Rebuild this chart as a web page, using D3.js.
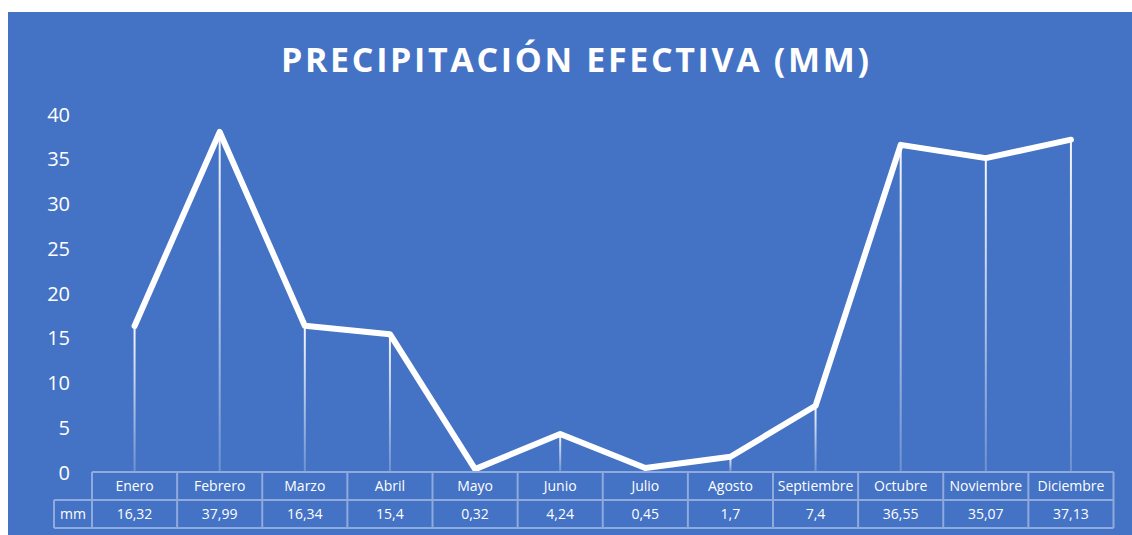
<!DOCTYPE html>
<html>
<head>
<meta charset="utf-8">
<script src="https://cdn.jsdelivr.net/npm/d3@7"></script>
<style>
  html, body { margin: 0; padding: 0; background: #ffffff; }
  svg { display: block; }
</style>
</head>
<body>
<svg id="chart" width="1132" height="535"></svg>
<script>
const title = "PRECIPITACIÓN EFECTIVA (MM)";
const categories = ["Enero","Febrero","Marzo","Abril","Mayo","Junio","Julio","Agosto","Septiembre","Octubre","Noviembre","Diciembre"];
const values = [16.32, 37.99, 16.34, 15.4, 0.32, 4.24, 0.45, 1.7, 7.4, 36.55, 35.07, 37.13];
const valueLabels = ["16,32","37,99","16,34","15,4","0,32","4,24","0,45","1,7","7,4","36,55","35,07","37,13"];
const seriesName = "mm";
const yTicks = [0, 5, 10, 15, 20, 25, 30, 35, 40];

const svg = d3.select("#chart");
const bg = "#4472C4";
const gridCol = "#8faadc";
const font = "'Open Sans', 'Liberation Sans', sans-serif";

svg.append("rect").attr("x", 8).attr("y", 12).attr("width", 1132 - 8).attr("height", 535 - 12).attr("fill", bg);

const plotLeft = 92, plotRight = 1113.5, yTop = 114, yZero = 472;
const x = d3.scaleBand().domain(categories).range([plotLeft, plotRight]).padding(0);
const y = d3.scaleLinear().domain([0, 40]).range([yZero, yTop]);

// title
svg.append("text")
  .attr("x", 575).attr("y", 72)
  .attr("text-anchor", "middle")
  .attr("fill", "#ffffff")
  .attr("font-family", font)
  .attr("font-weight", 700)
  .attr("font-size", 34)
  .attr("textLength", 588)
  .attr("lengthAdjust", "spacing")
  .text(title);

// y axis labels
const yAxis = d3.axisLeft(y).tickValues(yTicks).tickSize(0).tickPadding(0).tickFormat(d3.format("d"));
const yg = svg.append("g").attr("transform", "translate(70,0)").call(yAxis);
yg.select(".domain").remove();
yg.selectAll("text").attr("fill", "#ffffff").attr("font-family", font).attr("font-size", 20).attr("dy", "0.35em");

// gradient for drop lines
const defs = svg.append("defs");
const grad = defs.append("linearGradient").attr("id", "dropGrad").attr("x1", 0).attr("y1", 0).attr("x2", 0).attr("y2", 1);
grad.append("stop").attr("offset", "0%").attr("stop-color", "#ffffff").attr("stop-opacity", 0.95);
grad.append("stop").attr("offset", "100%").attr("stop-color", "#ffffff").attr("stop-opacity", 0.22);

const cx = d => x(d) + x.bandwidth() / 2;

// drop lines
svg.append("g").selectAll("rect").data(categories).join("rect")
  .attr("x", d => cx(d) - 1)
  .attr("width", 2)
  .attr("y", (d, i) => y(values[i]))
  .attr("height", (d, i) => yZero - y(values[i]))
  .attr("fill", "url(#dropGrad)");

// line
const line = d3.line().x((d, i) => cx(categories[i])).y(d => y(d));
svg.append("path").datum(values)
  .attr("d", line)
  .attr("fill", "none")
  .attr("stroke", "#ffffff")
  .attr("stroke-width", 6)
  .attr("stroke-linejoin", "round")
  .attr("stroke-linecap", "round");

// data table
const rowH = 28;
const tbl = svg.append("g").attr("fill", "none").attr("stroke", gridCol).attr("stroke-width", 2);
tbl.append("line").attr("x1", plotLeft).attr("x2", plotRight).attr("y1", yZero).attr("y2", yZero);
tbl.append("line").attr("x1", 54).attr("x2", plotRight).attr("y1", yZero + rowH).attr("y2", yZero + rowH);
tbl.append("line").attr("x1", 54).attr("x2", plotRight).attr("y1", yZero + 2 * rowH).attr("y2", yZero + 2 * rowH);
tbl.append("line").attr("x1", 54).attr("x2", 54).attr("y1", yZero + rowH).attr("y2", yZero + 2 * rowH);
const edges = categories.map(d => x(d)).concat([plotRight]);
tbl.selectAll("line.v").data(edges).join("line").attr("class", "v")
  .attr("x1", d => d).attr("x2", d => d)
  .attr("y1", yZero).attr("y2", yZero + 2 * rowH);

const txt = svg.append("g").attr("fill", "#ffffff").attr("font-family", font).attr("font-size", 14).attr("text-anchor", "middle");
txt.selectAll("text.cat").data(categories).join("text").attr("class", "cat")
  .attr("x", d => cx(d)).attr("y", yZero + rowH / 2).attr("dy", "0.36em").text(d => d);
txt.selectAll("text.val").data(valueLabels).join("text").attr("class", "val")
  .attr("x", (d, i) => cx(categories[i])).attr("y", yZero + rowH * 1.5).attr("dy", "0.36em").text(d => d);
txt.append("text").attr("x", 73).attr("y", yZero + rowH * 1.5).attr("dy", "0.36em").text(seriesName);
</script>
</body>
</html>
